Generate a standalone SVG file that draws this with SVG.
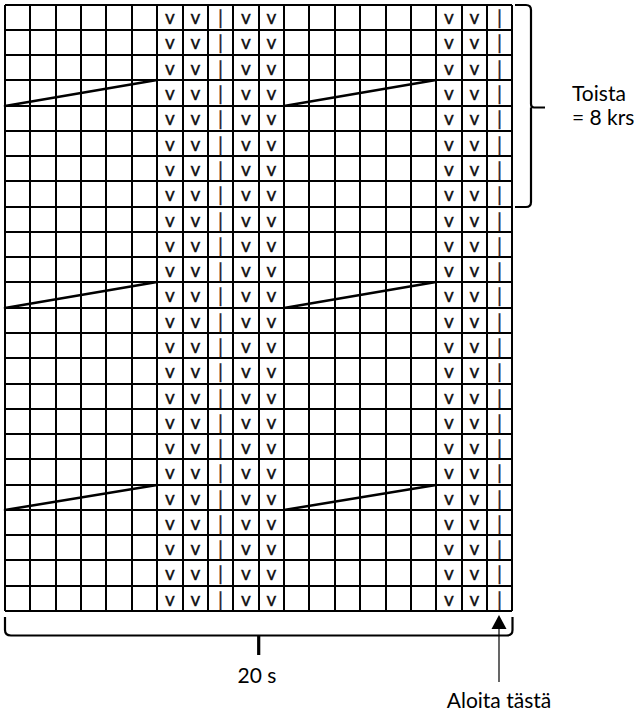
<svg xmlns="http://www.w3.org/2000/svg" width="634" height="715" viewBox="0 0 634 715">
<style>
.g{stroke:#000;stroke-width:2;fill:none}
.d{stroke:#000;stroke-width:2.5;fill:none;stroke-linecap:round}
.s{font-family:Lato,"Liberation Sans",sans-serif;font-size:19px;fill:#111;stroke:#111;stroke-width:0.35;text-anchor:middle}
.b{font-family:Lato,"Liberation Sans",sans-serif;font-size:20px;fill:#222;stroke:#222;stroke-width:0.3;text-anchor:middle}
.l{font-family:Lato,"Liberation Sans",sans-serif;font-size:21px;fill:#000}
.br{stroke:#000;stroke-width:2.2;fill:none}
</style>
<rect width="634" height="715" fill="#fff"/>
<g id="grid">
<path class="g" d="M5,5V611M30,5V611M56,5V611M81,5V611M106,5V611M132,5V611M157,5V611M183,5V611M208,5V611M233,5V611M259,5V611M284,5V611M309,5V611M335,5V611M360,5V611M386,5V611M411,5V611M436,5V611M462,5V611M487,5V611M512,5V611"/>
<path class="g" d="M5,5H512M5,30H512M5,55H512M5,80H512M5,106H512M5,131H512M5,156H512M5,181H512M5,207H512M5,232H512M5,257H512M5,282H512M5,308H512M5,333H512M5,358H512M5,384H512M5,409H512M5,434H512M5,459H512M5,485H512M5,510H512M5,535H512M5,560H512M5,586H512M5,611H512"/>
</g>
<g id="cables">
<path class="d" d="M5,106L157,80M284,106L436,80M5,308L157,282M284,308L436,282M5,510L157,485M284,510L436,485"/>
</g>
<g id="symbols">
<text class="s" x="170" y="24">v</text><text class="s" x="195.5" y="24">v</text><text class="b" x="220.5" y="25">|</text><text class="s" x="246" y="24">v</text><text class="s" x="271.5" y="24">v</text><text class="s" x="449" y="24">v</text><text class="s" x="474.5" y="24">v</text><text class="b" x="499.5" y="25">|</text>
<text class="s" x="170" y="49">v</text><text class="s" x="195.5" y="49">v</text><text class="b" x="220.5" y="50">|</text><text class="s" x="246" y="49">v</text><text class="s" x="271.5" y="49">v</text><text class="s" x="449" y="49">v</text><text class="s" x="474.5" y="49">v</text><text class="b" x="499.5" y="50">|</text>
<text class="s" x="170" y="75">v</text><text class="s" x="195.5" y="75">v</text><text class="b" x="220.5" y="76">|</text><text class="s" x="246" y="75">v</text><text class="s" x="271.5" y="75">v</text><text class="s" x="449" y="75">v</text><text class="s" x="474.5" y="75">v</text><text class="b" x="499.5" y="76">|</text>
<text class="s" x="170" y="100">v</text><text class="s" x="195.5" y="100">v</text><text class="b" x="220.5" y="101">|</text><text class="s" x="246" y="100">v</text><text class="s" x="271.5" y="100">v</text><text class="s" x="449" y="100">v</text><text class="s" x="474.5" y="100">v</text><text class="b" x="499.5" y="101">|</text>
<text class="s" x="170" y="125">v</text><text class="s" x="195.5" y="125">v</text><text class="b" x="220.5" y="126">|</text><text class="s" x="246" y="125">v</text><text class="s" x="271.5" y="125">v</text><text class="s" x="449" y="125">v</text><text class="s" x="474.5" y="125">v</text><text class="b" x="499.5" y="126">|</text>
<text class="s" x="170" y="151">v</text><text class="s" x="195.5" y="151">v</text><text class="b" x="220.5" y="152">|</text><text class="s" x="246" y="151">v</text><text class="s" x="271.5" y="151">v</text><text class="s" x="449" y="151">v</text><text class="s" x="474.5" y="151">v</text><text class="b" x="499.5" y="152">|</text>
<text class="s" x="170" y="176">v</text><text class="s" x="195.5" y="176">v</text><text class="b" x="220.5" y="177">|</text><text class="s" x="246" y="176">v</text><text class="s" x="271.5" y="176">v</text><text class="s" x="449" y="176">v</text><text class="s" x="474.5" y="176">v</text><text class="b" x="499.5" y="177">|</text>
<text class="s" x="170" y="201">v</text><text class="s" x="195.5" y="201">v</text><text class="b" x="220.5" y="202">|</text><text class="s" x="246" y="201">v</text><text class="s" x="271.5" y="201">v</text><text class="s" x="449" y="201">v</text><text class="s" x="474.5" y="201">v</text><text class="b" x="499.5" y="202">|</text>
<text class="s" x="170" y="227">v</text><text class="s" x="195.5" y="227">v</text><text class="b" x="220.5" y="228">|</text><text class="s" x="246" y="227">v</text><text class="s" x="271.5" y="227">v</text><text class="s" x="449" y="227">v</text><text class="s" x="474.5" y="227">v</text><text class="b" x="499.5" y="228">|</text>
<text class="s" x="170" y="252">v</text><text class="s" x="195.5" y="252">v</text><text class="b" x="220.5" y="253">|</text><text class="s" x="246" y="252">v</text><text class="s" x="271.5" y="252">v</text><text class="s" x="449" y="252">v</text><text class="s" x="474.5" y="252">v</text><text class="b" x="499.5" y="253">|</text>
<text class="s" x="170" y="277">v</text><text class="s" x="195.5" y="277">v</text><text class="b" x="220.5" y="278">|</text><text class="s" x="246" y="277">v</text><text class="s" x="271.5" y="277">v</text><text class="s" x="449" y="277">v</text><text class="s" x="474.5" y="277">v</text><text class="b" x="499.5" y="278">|</text>
<text class="s" x="170" y="302">v</text><text class="s" x="195.5" y="302">v</text><text class="b" x="220.5" y="303">|</text><text class="s" x="246" y="302">v</text><text class="s" x="271.5" y="302">v</text><text class="s" x="449" y="302">v</text><text class="s" x="474.5" y="302">v</text><text class="b" x="499.5" y="303">|</text>
<text class="s" x="170" y="328">v</text><text class="s" x="195.5" y="328">v</text><text class="b" x="220.5" y="329">|</text><text class="s" x="246" y="328">v</text><text class="s" x="271.5" y="328">v</text><text class="s" x="449" y="328">v</text><text class="s" x="474.5" y="328">v</text><text class="b" x="499.5" y="329">|</text>
<text class="s" x="170" y="353">v</text><text class="s" x="195.5" y="353">v</text><text class="b" x="220.5" y="354">|</text><text class="s" x="246" y="353">v</text><text class="s" x="271.5" y="353">v</text><text class="s" x="449" y="353">v</text><text class="s" x="474.5" y="353">v</text><text class="b" x="499.5" y="354">|</text>
<text class="s" x="170" y="378">v</text><text class="s" x="195.5" y="378">v</text><text class="b" x="220.5" y="379">|</text><text class="s" x="246" y="378">v</text><text class="s" x="271.5" y="378">v</text><text class="s" x="449" y="378">v</text><text class="s" x="474.5" y="378">v</text><text class="b" x="499.5" y="379">|</text>
<text class="s" x="170" y="404">v</text><text class="s" x="195.5" y="404">v</text><text class="b" x="220.5" y="405">|</text><text class="s" x="246" y="404">v</text><text class="s" x="271.5" y="404">v</text><text class="s" x="449" y="404">v</text><text class="s" x="474.5" y="404">v</text><text class="b" x="499.5" y="405">|</text>
<text class="s" x="170" y="429">v</text><text class="s" x="195.5" y="429">v</text><text class="b" x="220.5" y="430">|</text><text class="s" x="246" y="429">v</text><text class="s" x="271.5" y="429">v</text><text class="s" x="449" y="429">v</text><text class="s" x="474.5" y="429">v</text><text class="b" x="499.5" y="430">|</text>
<text class="s" x="170" y="454">v</text><text class="s" x="195.5" y="454">v</text><text class="b" x="220.5" y="455">|</text><text class="s" x="246" y="454">v</text><text class="s" x="271.5" y="454">v</text><text class="s" x="449" y="454">v</text><text class="s" x="474.5" y="454">v</text><text class="b" x="499.5" y="455">|</text>
<text class="s" x="170" y="479">v</text><text class="s" x="195.5" y="479">v</text><text class="b" x="220.5" y="480">|</text><text class="s" x="246" y="479">v</text><text class="s" x="271.5" y="479">v</text><text class="s" x="449" y="479">v</text><text class="s" x="474.5" y="479">v</text><text class="b" x="499.5" y="480">|</text>
<text class="s" x="170" y="505">v</text><text class="s" x="195.5" y="505">v</text><text class="b" x="220.5" y="506">|</text><text class="s" x="246" y="505">v</text><text class="s" x="271.5" y="505">v</text><text class="s" x="449" y="505">v</text><text class="s" x="474.5" y="505">v</text><text class="b" x="499.5" y="506">|</text>
<text class="s" x="170" y="530">v</text><text class="s" x="195.5" y="530">v</text><text class="b" x="220.5" y="531">|</text><text class="s" x="246" y="530">v</text><text class="s" x="271.5" y="530">v</text><text class="s" x="449" y="530">v</text><text class="s" x="474.5" y="530">v</text><text class="b" x="499.5" y="531">|</text>
<text class="s" x="170" y="555">v</text><text class="s" x="195.5" y="555">v</text><text class="b" x="220.5" y="556">|</text><text class="s" x="246" y="555">v</text><text class="s" x="271.5" y="555">v</text><text class="s" x="449" y="555">v</text><text class="s" x="474.5" y="555">v</text><text class="b" x="499.5" y="556">|</text>
<text class="s" x="170" y="580">v</text><text class="s" x="195.5" y="580">v</text><text class="b" x="220.5" y="581">|</text><text class="s" x="246" y="580">v</text><text class="s" x="271.5" y="580">v</text><text class="s" x="449" y="580">v</text><text class="s" x="474.5" y="580">v</text><text class="b" x="499.5" y="581">|</text>
<text class="s" x="170" y="606">v</text><text class="s" x="195.5" y="606">v</text><text class="b" x="220.5" y="607">|</text><text class="s" x="246" y="606">v</text><text class="s" x="271.5" y="606">v</text><text class="s" x="449" y="606">v</text><text class="s" x="474.5" y="606">v</text><text class="b" x="499.5" y="607">|</text>
</g>
<g id="repeat-bracket">
<path class="br" d="M515,5H526Q531,5 531,10V104Q531,107.5 534,107.5H545M531,107.5Q531,111 531,112V202Q531,207 526,207H515"/>
<text class="l" x="572" y="100.5">Toista</text>
<text class="l" x="572" y="125">= 8 krs</text>
</g>
<g id="width-bracket">
<path class="br" d="M5,617V630Q5,635.5 11,635.5H506.5Q512.5,635.5 512.5,630V617"/>
<path d="M258.7,635V655" stroke="#000" stroke-width="3.2"/>
<text class="l" x="257" y="683" text-anchor="middle">20 s</text>
</g>
<g id="start-arrow">
<path d="M499,682V628" stroke="#000" stroke-width="1.2"/>
<polygon points="499,615 491.5,629 506.5,629" fill="#000"/>
<text class="l" x="499" y="708" text-anchor="middle">Aloita tästä</text>
</g>
</svg>
